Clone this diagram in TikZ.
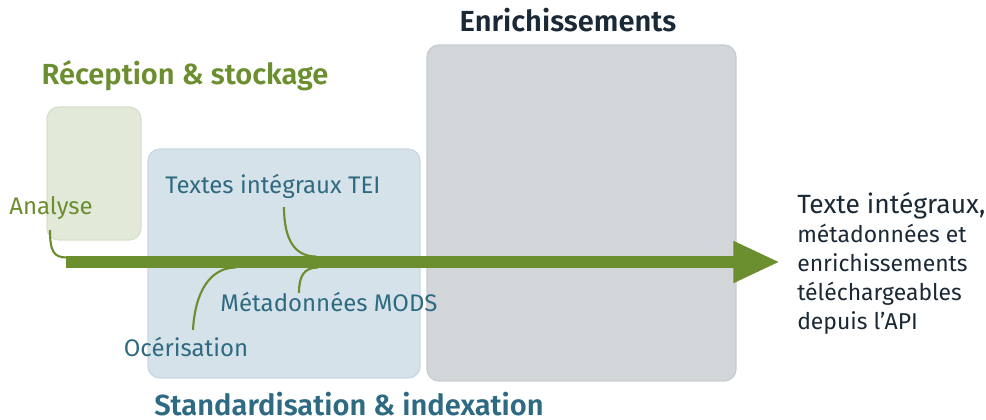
\documentclass[tikz,border=0pt]{standalone}
\usepackage{fontspec}
\setmainfont{Fira Sans}[BoldFont={Fira Sans SemiBold}]
\usetikzlibrary{arrows.meta}
\definecolor{lineGreen}{RGB}{107,142,47}
\definecolor{boxGreen}{RGB}{227,233,217}
\definecolor{edgeGreen}{RGB}{216,224,203}
\definecolor{boxBlue}{RGB}{214,226,233}
\definecolor{edgeBlue}{RGB}{202,216,226}
\definecolor{boxGray}{RGB}{211,214,217}
\definecolor{edgeGray}{RGB}{200,204,208}
\definecolor{textBlue}{RGB}{46,107,130}
\definecolor{textDark}{RGB}{27,40,54}
\tikzset{
  panel/.style={rounded corners=9pt, line width=1pt},
  lbl/.style={font=\fontsize{18}{21}\selectfont, inner sep=0pt},
  ttl/.style={font=\fontsize{21.8}{25}\selectfont\bfseries, inner sep=0pt},
  conn/.style={draw=lineGreen, line width=1.6pt}
}
\begin{document}
\begin{tikzpicture}[x=0.75pt,y=-0.75pt]
\useasboundingbox[fill=white] (0,0) rectangle (986,420);
% panels
\draw[panel, fill=boxGreen, draw=edgeGreen] (47,107) rectangle (141,240);
\draw[panel, fill=boxBlue, draw=edgeBlue] (148,149) rectangle (420,378);
\draw[panel, fill=boxGray, draw=edgeGray] (427,45) rectangle (736,381);
% titles
\node[ttl, text=lineGreen] (trec) at (185,76) {Réception \& stockage};
\node[ttl, text=textDark] (tenr) at (568,20) {Enrichissements};
\node[ttl, text=textBlue] (tstd) at (349,404) {Standardisation \& indexation};
% main arrow
\coordinate (astart) at (66,262);
\coordinate (aend) at (780,262);
\draw[draw=lineGreen, line width=9pt, -{Triangle[length=35pt,width=29pt]}] (astart) -- (aend);
% labels
\node[lbl, text=lineGreen] (analyse) at (51,208) {Analyse};
\node[lbl, text=textBlue] (tei) at (273,186) {Textes intégraux TEI};
\node[lbl, text=textBlue] (mods) at (329,302) {Métadonnées MODS};
\node[lbl, text=textBlue] (ocr) at (186,347) {Océrisation};
\node[lbl, text=textDark, align=left, anchor=west, font=\fontsize{17.2}{21.75}\selectfont] (out) at (797,263) {{\fontsize{19.8}{21.75}\selectfont Texte intégraux,}\\métadonnées et\\enrichissements\\téléchargeables\\depuis l’API};
% connectors
\coordinate (c1a) at (50,230);
\coordinate (c1b) at (67,257.5);
\draw[conn] (c1a) .. controls (50,252) and (54,257.5) .. (c1b);
\coordinate (c2a) at (284,207);
\coordinate (c2b) at (316,256.5);
\draw[conn] (c2a) .. controls (284,240) and (295,256.5) .. (c2b);
\coordinate (c3a) at (299,293);
\coordinate (c3b) at (318,267.5);
\draw[conn] (c3a) .. controls (299,276) and (304,267.5) .. (c3b);
\coordinate (c4a) at (193,330);
\coordinate (c4b) at (236,267.5);
\draw[conn] (c4a) .. controls (195,292) and (210,267.5) .. (c4b);
\end{tikzpicture}
\end{document}
